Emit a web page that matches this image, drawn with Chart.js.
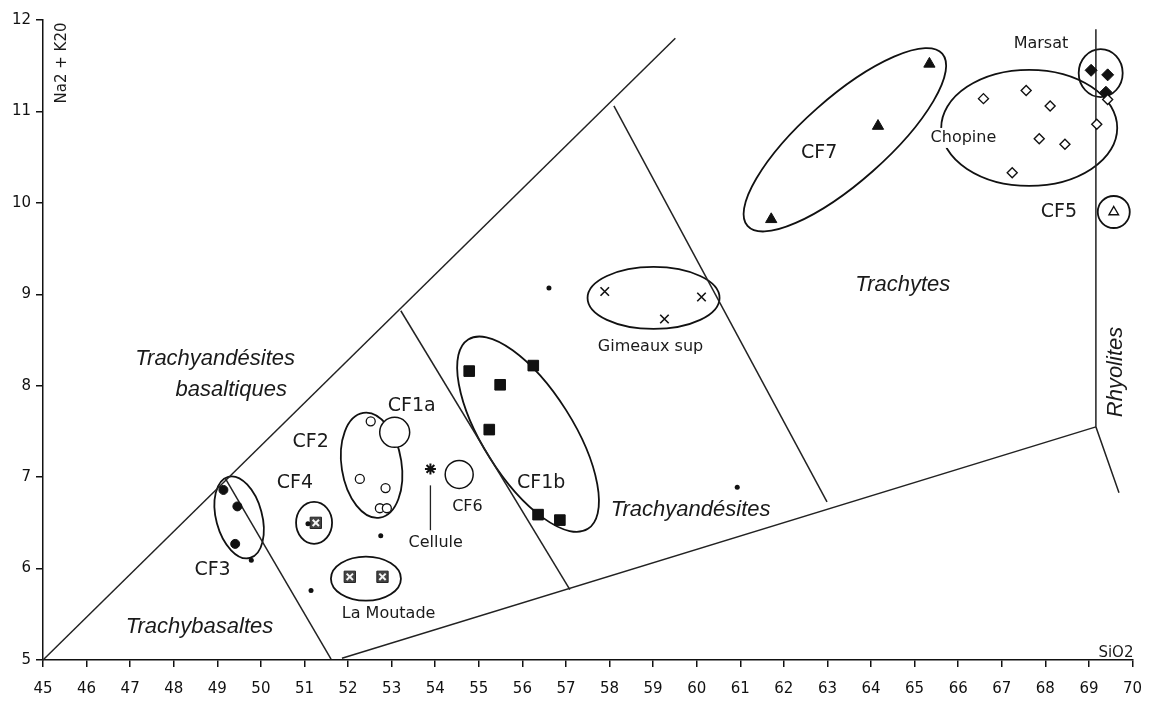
<!DOCTYPE html>
<html>
<head>
<meta charset="utf-8">
<script src="https://cdn.jsdelivr.net/npm/chart.js@4.4.1/dist/chart.umd.min.js"></script>
<style>
  html, body { margin: 0; padding: 0; background: #fff; overflow: hidden; }
  #tas { display: block; }
</style>
</head>
<body>
<canvas id="tas" width="1149" height="703"></canvas>
<script>
// Diagramme TAS : SiO2 (x) contre Na2O + K2O (y), paires [SiO2, alcalins]
const cf3 = [[49.14, 6.86], [49.46, 6.68], [49.41, 6.27]];
const isoles = [[49.78, 6.09], [51.15, 5.76], [51.08, 6.49], [52.75, 6.36], [56.61, 9.07], [60.93, 6.89]];
const cf4 = [[51.26, 6.50]];
const laMoutade = [[52.04, 5.91], [52.79, 5.91]];
const cf2 = [[52.52, 7.61], [52.27, 6.98], [52.86, 6.88], [52.73, 6.66], [52.89, 6.66]];
const cf1a = [[53.07, 7.49]];
const cf6 = [[54.55, 7.03]];
const cellule = [[53.89, 7.09]];
const cf1b = [[54.78, 8.16], [56.25, 8.22], [55.49, 8.01], [55.24, 7.52], [56.36, 6.59], [56.86, 6.53]];
const gimeauxSup = [[57.89, 9.03], [60.11, 8.97], [59.26, 8.73]];
const cf7 = [[61.71, 9.82], [64.16, 10.84], [65.34, 11.52]];
const chopine = [[66.58, 11.14], [67.56, 11.23], [68.11, 11.06], [67.86, 10.70], [68.45, 10.64], [67.24, 10.33], [69.18, 10.86], [69.43, 11.13]];
const marsat = [[69.05, 11.45], [69.43, 11.40], [69.39, 11.21]];
const cf5 = [[69.57, 9.90]];

// Limites des champs
const limiteHaute = [[45, 5.0], [59.51, 11.8]];
const limiteTrachybasaltes = [[49.18, 6.99], [51.61, 5.01]];
const limiteTrachyandBas = [[53.21, 8.82], [57.09, 5.77]];
const limiteTrachytes = [[58.10, 11.06], [62.99, 6.73]];
const limiteBasse = [[51.86, 5.02], [69.16, 7.55]];
const limiteRhyolites = [[69.16, 11.9], [69.16, 7.55], [69.69, 6.83]];

const toXY = arr => arr.map(p => ({ x: p[0], y: p[1] }));

function limite(arr) {
  return {
    data: toXY(arr), showLine: true, pointRadius: 0, borderColor: '#222',
    borderWidth: 1.5, clip: false, order: 5
  };
}

// Enveloppes des groupes (centre en données, rayons en pixels)
const enveloppes = [
  { at: [49.50, 6.56], rx: 23, ry: 42, rot: -15 },
  { at: [51.22, 6.50], rx: 18, ry: 21, rot: 0 },
  { at: [52.41, 5.89], rx: 35, ry: 22, rot: 0 },
  { at: [52.54, 7.13], rx: 30, ry: 53, rot: -9 },
  { at: [56.13, 7.47], rx: 112, ry: 45, rot: 57.7 },
  { at: [59.01, 8.96], rx: 66, ry: 31, rot: 0 },
  { at: [63.40, 10.69], rx: 130, ry: 42, rot: -41.5 },
  { at: [67.63, 10.82], rx: 88, ry: 58, rot: 0 },
  { at: [69.27, 11.42], rx: 22, ry: 24, rot: 0 },
  { at: [69.57, 9.90], rx: 16, ry: 16, rot: 0 }
];

const fCF = '19px "DejaVu Sans"';
const fPetit = '16px "DejaVu Sans"';
const fChamp = 'italic 22px "Liberation Sans"';
const etiquettes = [
  { text: 'CF3', at: [48.89, 5.98], font: fCF },
  { text: 'CF4', at: [50.78, 6.94], font: fCF },
  { text: 'CF2', at: [51.14, 7.38], font: fCF },
  { text: 'CF1a', at: [53.46, 7.78], font: fCF },
  { text: 'CF6', at: [54.74, 6.68], font: fPetit },
  { text: 'Cellule', at: [54.01, 6.28], font: fPetit },
  { text: 'CF1b', at: [56.43, 6.94], font: fCF },
  { text: 'La Moutade', at: [52.93, 5.50], font: fPetit },
  { text: 'Gimeaux sup', at: [58.94, 8.43], font: fPetit },
  { text: 'CF7', at: [62.81, 10.55], font: fCF },
  { text: 'Chopine', at: [66.12, 10.71], font: fPetit, bg: true },
  { text: 'Marsat', at: [67.90, 11.74], font: fPetit },
  { text: 'CF5', at: [68.31, 9.90], font: fCF },
  { text: 'Trachybasaltes', at: [48.59, 5.36], font: fChamp },
  { text: 'Trachyandésites', at: [48.95, 8.29], font: fChamp },
  { text: 'basaltiques', at: [49.32, 7.95], font: fChamp },
  { text: 'Trachyandésites', at: [59.86, 6.64], font: fChamp },
  { text: 'Trachytes', at: [64.73, 9.10], font: fChamp },
  { text: 'Rhyolites', at: [69.62, 8.15], font: fChamp, rotate: true },
  { text: 'Na2 + K20', at: [45.43, 11.53], font: '15px "DejaVu Sans"', rotate: true },
  { text: 'SiO2', at: [69.62, 5.08], font: '15px "DejaVu Sans"' }
];

const traitCellule = [[53.89, 6.91], [53.89, 6.42]];

const tasOverlay = {
  id: 'tasOverlay',
  beforeDatasetsDraw(chart) {
    const { ctx, scales } = chart;
    ctx.save();
    ctx.strokeStyle = '#111';
    ctx.lineWidth = 1.8;
    enveloppes.forEach(e => {
      ctx.beginPath();
      ctx.ellipse(scales.x.getPixelForValue(e.at[0]), scales.y.getPixelForValue(e.at[1]),
        e.rx, e.ry, e.rot * Math.PI / 180, 0, Math.PI * 2);
      ctx.stroke();
    });
    ctx.restore();
  },
  afterDatasetsDraw(chart) {
    const { ctx, scales } = chart;
    ctx.save();
    ctx.strokeStyle = '#222';
    ctx.lineWidth = 1.3;
    ctx.beginPath();
    ctx.moveTo(scales.x.getPixelForValue(traitCellule[0][0]), scales.y.getPixelForValue(traitCellule[0][1]));
    ctx.lineTo(scales.x.getPixelForValue(traitCellule[1][0]), scales.y.getPixelForValue(traitCellule[1][1]));
    ctx.stroke();

    ctx.textAlign = 'center';
    ctx.textBaseline = 'middle';
    etiquettes.forEach(l => {
      const x = scales.x.getPixelForValue(l.at[0]);
      const y = scales.y.getPixelForValue(l.at[1]);
      ctx.font = l.font;
      ctx.save();
      ctx.translate(x, y);
      if (l.rotate) ctx.rotate(-Math.PI / 2);
      if (l.bg) {
        const w = ctx.measureText(l.text).width;
        ctx.fillStyle = '#fff';
        ctx.fillRect(-w / 2 - 3, -10, w + 6, 20);
      }
      ctx.fillStyle = '#1a1a1a';
      ctx.fillText(l.text, 0, 0);
      ctx.restore();
    });
    ctx.restore();
  }
};

new Chart(document.getElementById('tas'), {
  type: 'scatter',
  data: {
    datasets: [
      limite(limiteHaute),
      limite(limiteTrachybasaltes),
      limite(limiteTrachyandBas),
      limite(limiteTrachytes),
      limite(limiteBasse),
      limite(limiteRhyolites),
      { data: toXY(cf3), pointStyle: 'circle', pointRadius: 4.5, backgroundColor: '#111', borderColor: '#111', borderWidth: 1 },
      { data: toXY(isoles), pointStyle: 'circle', pointRadius: 2.5, backgroundColor: '#111', borderColor: '#111', borderWidth: 0 },
      { data: toXY(cf4.concat(laMoutade)), pointStyle: 'rect', pointRadius: 8, backgroundColor: '#444', borderColor: '#222', borderWidth: 1, order: 1 },
      { data: toXY(cf4.concat(laMoutade)), pointStyle: 'crossRot', pointRadius: 4.5, borderColor: '#f4f4f4', borderWidth: 2, order: 0 },
      { data: toXY(cf2), pointStyle: 'circle', pointRadius: 4.5, backgroundColor: '#fff', borderColor: '#111', borderWidth: 1.3 },
      { data: toXY(cf1a), pointStyle: 'circle', pointRadius: 15, backgroundColor: '#fff', borderColor: '#111', borderWidth: 1.5 },
      { data: toXY(cf6), pointStyle: 'circle', pointRadius: 14, backgroundColor: '#fff', borderColor: '#111', borderWidth: 1.5 },
      { data: toXY(cellule), pointStyle: 'star', pointRadius: 5.5, borderColor: '#111', borderWidth: 2 },
      { data: toXY(cf1b), pointStyle: 'rect', pointRadius: 7.5, backgroundColor: '#111', borderColor: '#111', borderWidth: 1 },
      { data: toXY(gimeauxSup), pointStyle: 'crossRot', pointRadius: 6, borderColor: '#111', borderWidth: 1.6 },
      { data: toXY(cf7), pointStyle: 'triangle', pointRadius: 6.5, backgroundColor: '#111', borderColor: '#111', borderWidth: 1 },
      { data: toXY(chopine), pointStyle: 'rectRot', pointRadius: 5, backgroundColor: '#fff', borderColor: '#111', borderWidth: 1.4 },
      { data: toXY(marsat), pointStyle: 'rectRot', pointRadius: 6, backgroundColor: '#111', borderColor: '#111', borderWidth: 1 },
      { data: toXY(cf5), pointStyle: 'triangle', pointRadius: 5.5, backgroundColor: '#fff', borderColor: '#111', borderWidth: 1.4 }
    ]
  },
  options: {
    responsive: false,
    animation: false,
    devicePixelRatio: 1,
    layout: { padding: { top: 20, right: 7, left: 0, bottom: 0 } },
    plugins: { legend: { display: false }, tooltip: { enabled: false } },
    scales: {
      x: {
        min: 45, max: 70,
        ticks: { stepSize: 1, color: '#111', font: { family: 'DejaVu Sans', size: 15 }, padding: 2, maxRotation: 0, autoSkip: false },
        grid: { drawOnChartArea: false, drawTicks: true, tickLength: 7, color: '#111', lineWidth: 1.5 },
        border: { color: '#111', width: 1.5 },
        afterFit: s => { s.height = 43; }
      },
      y: {
        min: 5, max: 12,
        ticks: { stepSize: 1, color: '#111', font: { family: 'DejaVu Sans', size: 15 }, padding: 5 },
        grid: { drawOnChartArea: false, drawTicks: true, tickLength: 7, color: '#111', lineWidth: 1.5 },
        border: { color: '#111', width: 1.5 },
        afterFit: s => { s.width = 43; }
      }
    }
  },
  plugins: [tasOverlay, {
    id: 'decalageGraduations',
    // descend les libellés de l'axe x sans toucher à la marge droite
    beforeDraw(chart) { chart.scales.x.options.ticks.padding = 13; }
  }]
});
</script>
</body>
</html>
